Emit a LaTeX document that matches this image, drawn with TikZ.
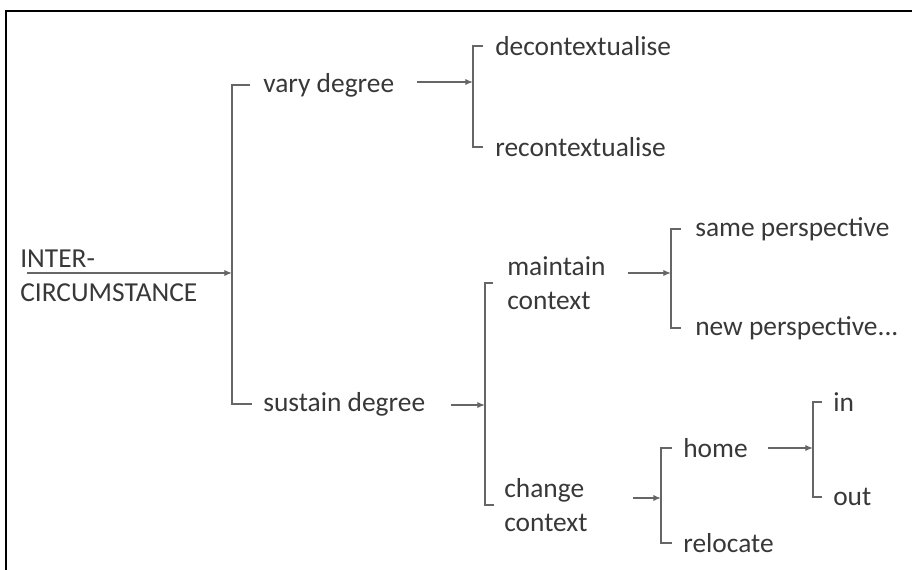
\documentclass[tikz,border=0pt]{standalone}
\usepackage{fontspec}
\setmainfont{Carlito}
\usetikzlibrary{arrows.meta}
\definecolor{linegray}{HTML}{666666}
\definecolor{textgray}{HTML}{383838}
\tikzset{
  lbl/.style={anchor=west, inner sep=0pt, text=textgray, align=left,
    font=\fontsize{19.5}{24}\selectfont},
  brk/.style={linegray, line width=1pt},
  arr/.style={linegray, line width=1pt, -{Latex[length=5.5pt,width=4.5pt]}}
}

\begin{document}
\begin{tikzpicture}[x=0.025cm, y=-0.025cm]
    \useasboundingbox (0,0) rectangle (912,570);
    \draw[line width=1.6pt] (6,575) -- (6,11) -- (915,11);

    % first level
    \node[lbl] (ic) at (20,276) {INTER-\\CIRCUMSTANCE};
    \node[lbl] (vd) at (263,85) {vary degree};
    \node[lbl] (sd) at (263,404) {sustain degree};
    % second level
    \node[lbl] (dc) at (495,46) {decontextualise};
    \node[lbl] (rc) at (495,147) {recontextualise};
    \node[lbl] (mc) at (507,283) {maintain\\context};
    \node[lbl] (cc) at (504,505) {change\\context};
    % third level
    \node[lbl] (sp) at (695,229) {same perspective};
    \node[lbl] (np) at (695,328) {new perspective...};
    \node[lbl] (hm) at (683,448) {home};
    \node[lbl] (rl) at (683,543) {relocate};
    % fourth level
    \node[lbl] (in) at (833,402) {in};
    \node[lbl] (ot) at (833,497) {out};

    % bracket joints
    \coordinate (j1) at (232,273);
    \coordinate (j2) at (473,82);
    \coordinate (j3) at (485,405);
    \coordinate (j4) at (671,273);
    \coordinate (j5) at (661,498);
    \coordinate (j6) at (813,448);

    \draw[brk] ([xshift=-9pt]vd.west) -| (j1) |- ([xshift=-8pt]sd.west);
    \draw[brk] ([xshift=-8.5pt]dc.west) -| (j2) |- ([xshift=-8.5pt]rc.west);
    \draw[brk] ([xshift=-10pt]mc.west) -| (j3) |- ([xshift=-7pt]cc.west);
    \draw[brk] ([xshift=-10pt]sp.west) -| (j4) |- ([xshift=-10pt]np.west);
    \draw[brk] ([xshift=-8pt]hm.west) -| (j5) |- ([xshift=-8pt]rl.west);
    \draw[brk] ([xshift=-8pt]in.west) -| (j6) |- ([xshift=-8pt]ot.west);

    \draw[arr] ([xshift=5pt]ic.west |- j1) -- (j1);
    \draw[arr] ([xshift=16pt]vd.east |- j2) -- (j2);
    \draw[arr] ([xshift=18pt]sd.east |- j3) -- (j3);
    \draw[arr] ([xshift=16pt]mc.east |- j4) -- (j4);
    \draw[arr] ([xshift=32pt]cc.east |- j5) -- (j5);
    \draw[arr] ([xshift=14pt]hm.east |- j6) -- (j6);
\end{tikzpicture}
\end{document}
